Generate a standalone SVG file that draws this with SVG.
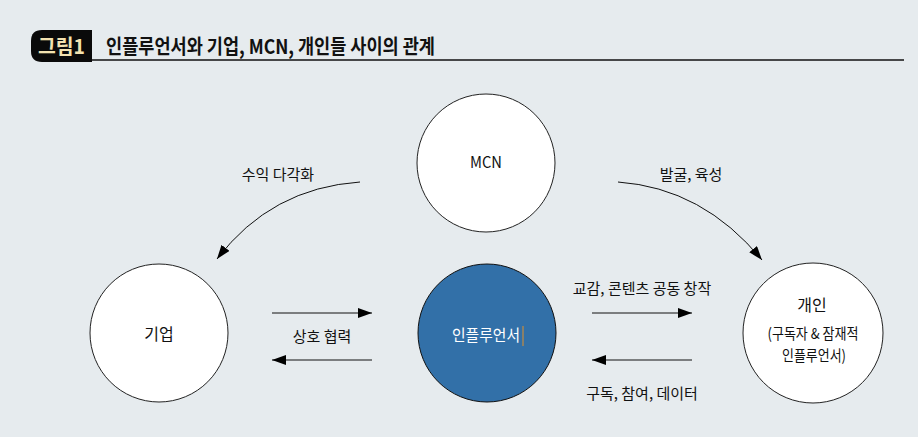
<svg xmlns="http://www.w3.org/2000/svg" width="918" height="437" viewBox="0 0 918 437">
<defs>
<style>
.t{font-family:"Noto Sans CJK KR","Liberation Sans",sans-serif;fill:#111;}
.lbl{font-size:15px;}
.node{fill:#fff;stroke:#222;stroke-width:1;}
.edge{fill:none;stroke:#111;stroke-width:1;}
</style>
<marker id="ah" markerUnits="userSpaceOnUse" markerWidth="14" markerHeight="10" refX="14" refY="5" orient="auto">
<path d="M0,0 L14,5 L0,10 z" fill="#000"/>
</marker>
</defs>
<rect x="0" y="0" width="918" height="437" fill="#e6ebee"/>
<g id="header">
<path d="M92,30 L42,30 Q31,30 31,41 L31,51 Q31,62 42,62 L92,62 Z" fill="#0a0a0a"/>
<text x="61.5" y="54" text-anchor="middle" font-family="'Noto Sans CJK KR','Liberation Sans',sans-serif" font-weight="700" font-size="20" fill="#f3e2b0" textLength="47" lengthAdjust="spacingAndGlyphs">그림1</text>
<line x1="92" y1="60" x2="904" y2="60" stroke="#111" stroke-width="1.5"/>
<text x="106" y="54" class="t" font-weight="700" font-size="20" textLength="329" lengthAdjust="spacingAndGlyphs">인플루언서와 기업, MCN, 개인들 사이의 관계</text>
</g>
<g id="connectors">
<path class="edge" d="M360,182 Q271,188 217,259" marker-end="url(#ah)"/>
<path class="edge" d="M618,182 Q703,188 762,260" marker-end="url(#ah)"/>
<line class="edge" x1="272" y1="313" x2="372" y2="313" marker-end="url(#ah)"/>
<line class="edge" x1="372" y1="360" x2="272" y2="360" marker-end="url(#ah)"/>
<line class="edge" x1="592" y1="313" x2="692" y2="313" marker-end="url(#ah)"/>
<line class="edge" x1="692" y1="360" x2="592" y2="360" marker-end="url(#ah)"/>
<text class="t lbl" x="278" y="180" text-anchor="middle">수익 다각화</text>
<text class="t lbl" x="691" y="180" text-anchor="middle">발굴, 육성</text>
<text class="t lbl" x="322" y="342" text-anchor="middle">상호 협력</text>
<text class="t lbl" x="642" y="294" text-anchor="middle">교감, 콘텐츠 공동 창작</text>
<text class="t lbl" x="642" y="399" text-anchor="middle">구독, 참여, 데이터</text>
</g>
<g id="mcn">
<circle class="node" cx="486" cy="163" r="69"/>
<text class="t" x="486" y="168" text-anchor="middle" font-size="16" textLength="32" lengthAdjust="spacingAndGlyphs">MCN</text>
</g>
<g id="company">
<circle class="node" cx="159" cy="333" r="69"/>
<text class="t" x="159" y="340" text-anchor="middle" font-size="16">기업</text>
</g>
<g id="influencer">
<circle cx="487" cy="333" r="69" fill="#3270a8" stroke="#111" stroke-width="1"/>
<text x="486" y="341" text-anchor="middle" font-family="'Noto Sans CJK KR','Liberation Sans',sans-serif" font-size="16" fill="#fff" textLength="68" lengthAdjust="spacingAndGlyphs">인플루언서</text>
<line x1="523" y1="326" x2="523" y2="346" stroke="#e0902a" stroke-width="1"/>
</g>
<g id="individual">
<circle class="node" cx="813" cy="333" r="70"/>
<text class="t" x="812" y="311" text-anchor="middle" font-size="16">개인</text>
<text class="t" x="813" y="339" text-anchor="middle" font-size="15" textLength="91" lengthAdjust="spacingAndGlyphs">(구독자 &amp; 잠재적</text>
<text class="t" x="814" y="361" text-anchor="middle" font-size="15" textLength="64" lengthAdjust="spacingAndGlyphs">인플루언서)</text>
</g>
</svg>
